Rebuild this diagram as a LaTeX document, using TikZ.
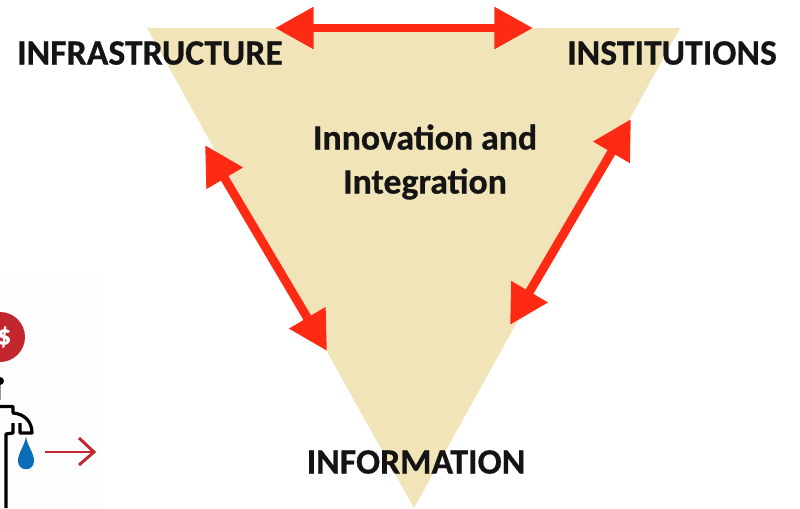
\documentclass[tikz,border=0pt]{standalone}
\usepackage{fontspec}
\setmainfont[BoldFeatures={FakeBold=0.6}]{Carlito}
\usetikzlibrary{arrows.meta}
\definecolor{tri}{HTML}{F1E4B8}
\definecolor{redarrow}{HTML}{FF2A14}
\definecolor{darkred}{HTML}{C1272D}
\definecolor{drop}{HTML}{0B6CB8}
\tikzset{
  x=0.75pt,y=-0.75pt,
  label text/.style={font=\bfseries\fontsize{26.8}{28}\selectfont,text=black!92,inner sep=0,align=center},
  bigarrow/.style={draw=redarrow,line width=6.6pt,{Triangle[length=29pt,width=30pt,fill=redarrow]}-{Triangle[length=29pt,width=30pt,fill=redarrow]},shorten <=0pt,shorten >=0pt},
  faucet/.style={draw=black,line width=2.4pt,line join=round}
}
\begin{document}
\begin{tikzpicture}
\useasboundingbox (0,0) rectangle (800,508);
\fill[white] (0,0) rectangle (800,508);
\fill[black!0.6] (0,275) rectangle (102,508);
% triangle
\fill[tri] (147,28) -- (680,28) -- (414,508) -- cycle;
% labels
\node[label text] (infra) at (150,53) {INFRASTRUCTURE};
\node[label text] (inst) at (672,53) {INSTITUTIONS};
\node[label text] (info) at (416,462) {INFORMATION};
\node[label text,font=\bfseries\fontsize{26.8}{33}\selectfont] (innov) at (425,162) {Innovation and\\Integration};
% arrows
\coordinate (topL) at (275,28);
\coordinate (topR) at (533,28);
\coordinate (leftA) at (205,145);
\coordinate (leftB) at (327,351);
\coordinate (rightA) at (631,119);
\coordinate (rightB) at (510,325);
\draw[bigarrow] (topL) -- (topR);
\draw[bigarrow] (leftA) -- (leftB);
\draw[bigarrow] (rightA) -- (rightB);
% dollar badge
\fill[darkred] (0,337) circle (25);
\node[font=\bfseries\fontsize{21}{24}\selectfont,text=white,inner sep=0] (dollar) at (4,337) {\$};
% faucet
\draw[black!40,line width=1pt] (0,385) -- (0,400);
\fill[black] (0,381) circle (4);
\draw[faucet] (0,406.5) -- (13,406.5) -- (13,413) .. controls (25,414) and (32,422) .. (32,433) -- (20,433) -- (20,423);
\draw[faucet] (13,423) -- (13,433) -- (6,434) -- (6,508);
\fill[drop] (26,437) .. controls (28,447) and (34,453) .. (34,461) .. controls (34,472) and (18,472) .. (18,461) .. controls (18,453) and (24,447) .. (26,437) -- cycle;
% small arrow
\draw[darkred,line width=2.2pt] (45,452) -- (94,452);
\draw[darkred,line width=2.2pt] (79,438) -- (94,452) -- (79,465);
\end{tikzpicture}
\end{document}
